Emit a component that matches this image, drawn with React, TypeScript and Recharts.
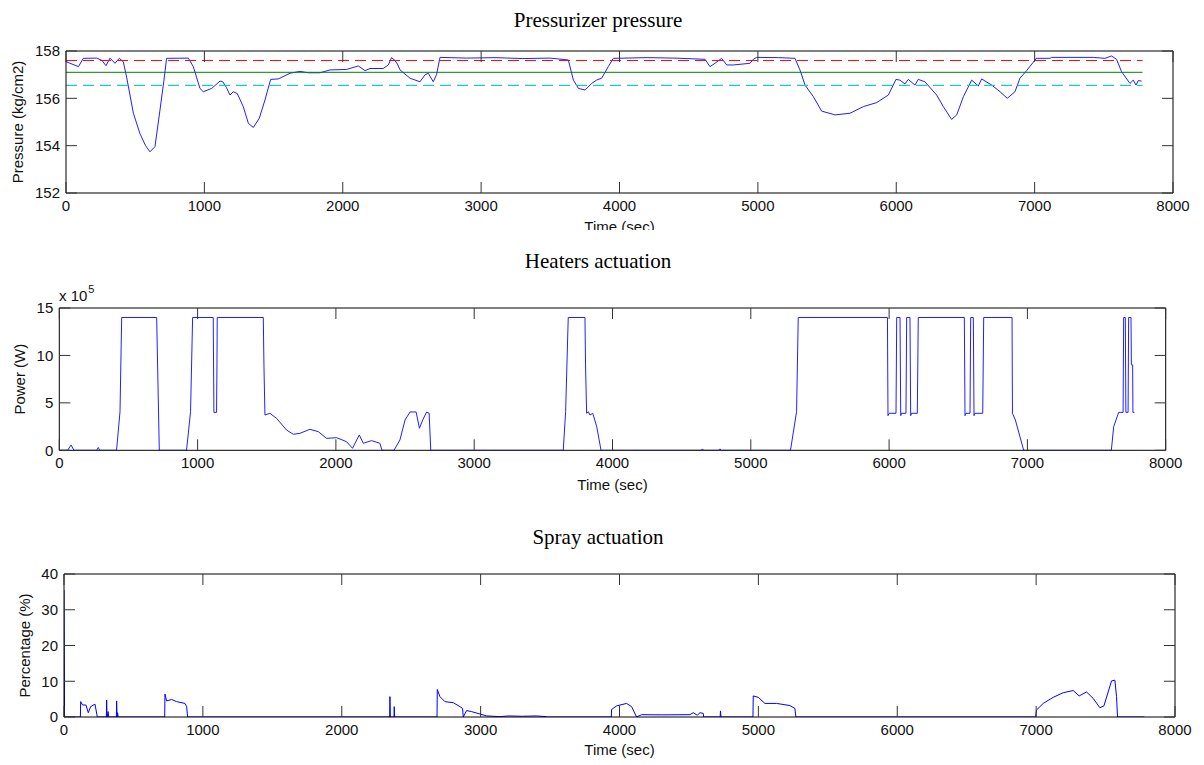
import React from 'react';
import { LineChart, Line, XAxis, YAxis, ReferenceLine } from 'recharts';

// time axis shared by the three panels
const timeTicks = [0, 1000, 2000, 3000, 4000, 5000, 6000, 7000, 8000];
const pressureTicks = [152, 154, 156, 158];
const powerTicks = [0, 5, 10, 15];
const sprayTicks = [0, 10, 20, 30, 40];

// pressure limits (kg/cm2)
const highLimit = 157.6;
const setpoint = 157.1;
const lowLimit = 156.55;
const limitEnd = 7780;

// [time (s), pressure (kg/cm2)]
const pressureSamples: [number, number][] = [
    [0, 157.55], [90, 157.34], [125, 157.69], [222, 157.7], [260, 157.6], [289, 157.38],
    [318, 157.7], [354, 157.48], [385, 157.69], [414, 157.55], [438, 156.9], [487, 155.37],
    [535, 154.5], [575, 154.0], [607, 153.74], [643, 153.96], [679, 155.5], [708, 156.77],
    [727, 157.69], [884, 157.7], [920, 157.34], [968, 156.42], [992, 156.28], [1053, 156.42],
    [1113, 156.73], [1133, 156.7], [1160, 156.45], [1185, 156.14], [1209, 156.28], [1238, 156.2],
    [1281, 155.65], [1318, 154.94], [1354, 154.77], [1397, 155.16], [1438, 155.93], [1479, 156.8],
    [1534, 156.82], [1619, 157.06], [1691, 157.14], [1751, 157.08], [1835, 157.08], [1908, 157.2],
    [2028, 157.22], [2112, 157.37], [2161, 157.17], [2197, 157.26], [2293, 157.26], [2329, 157.41],
    [2353, 157.72], [2377, 157.6], [2395, 157.45], [2414, 157.2], [2486, 156.85], [2558, 156.7],
    [2594, 156.99], [2618, 157.06], [2654, 156.7], [2678, 157.0], [2703, 157.73], [2900, 157.7],
    [3100, 157.72], [3300, 157.68], [3500, 157.7], [3630, 157.62], [3667, 156.77], [3703, 156.42],
    [3751, 156.35], [3799, 156.63], [3835, 156.77], [3871, 156.85], [3919, 157.34], [3955, 157.69],
    [4200, 157.72], [4400, 157.7], [4618, 157.65], [4654, 157.34], [4690, 157.48], [4738, 157.69],
    [4775, 157.41], [4823, 157.41], [4943, 157.48], [4967, 157.65], [4991, 157.73], [5150, 157.72],
    [5268, 157.69], [5304, 157.2], [5341, 156.56], [5401, 156.07], [5461, 155.46], [5558, 155.3],
    [5666, 155.37], [5762, 155.65], [5859, 155.82], [5943, 156.14], [5998, 156.8], [6026, 156.77],
    [6063, 156.61], [6087, 156.8], [6135, 156.56], [6159, 156.8], [6207, 156.7], [6292, 156.14],
    [6340, 155.65], [6400, 155.11], [6437, 155.3], [6485, 156.07], [6545, 156.77], [6593, 156.52],
    [6617, 156.82], [6690, 156.56], [6750, 156.28], [6802, 156.0], [6858, 156.28], [6894, 156.85],
    [6942, 157.17], [7003, 157.62], [7010, 157.69], [7111, 157.69], [7123, 157.73], [7424, 157.73],
    [7508, 157.69], [7556, 157.79], [7592, 157.65], [7628, 157.13], [7689, 156.63], [7713, 156.77],
    [7733, 156.56], [7749, 156.75], [7773, 156.73],
];

// [time (s), heater power (x 10^5 W)]
const heaterSamples: [number, number][] = [
    [0, 0], [60, 0], [85, 0.56], [106, 0], [270, 0], [282, 0.3], [292, 0], [414, 0], [439, 4.07],
    [451, 14], [704, 14], [723, 0], [920, 0], [949, 4.07], [964, 14], [1113, 14], [1118, 4],
    [1137, 4], [1140, 9], [1142, 14], [1475, 14], [1480, 8.8], [1487, 3.72], [1523, 3.9],
    [1571, 3.37], [1643, 2.14], [1692, 1.69], [1740, 1.79], [1812, 2.21], [1872, 1.97],
    [1933, 1.26], [2005, 1.33], [2077, 0.91], [2120, 0.21], [2169, 1.62], [2198, 0.74],
    [2258, 1.02], [2318, 0.74], [2333, 0], [2420, 0], [2463, 1.09], [2500, 3.2], [2536, 4.04],
    [2580, 4.04], [2604, 2.32], [2628, 3.2], [2656, 4.04], [2674, 3.9], [2686, 0], [3644, 0],
    [3661, 4.07], [3680, 14], [3801, 14], [3805, 9], [3813, 3.9], [3825, 4.07], [3837, 3.72],
    [3857, 3.9], [3886, 2.5], [3917, 0], [4640, 0], [4650, 0.15], [4660, 0], [4766, 0],
    [4776, 0.15], [4786, 0], [5287, 0], [5331, 4.07], [5343, 14], [5988, 14], [5992, 3.65],
    [6000, 3.9], [6050, 3.9], [6055, 14], [6079, 14], [6084, 3.65], [6090, 3.9], [6122, 3.9],
    [6127, 14], [6151, 14], [6156, 3.65], [6162, 3.9], [6204, 3.9], [6211, 14], [6544, 14],
    [6549, 3.65], [6555, 3.9], [6585, 3.9], [6590, 14], [6609, 14], [6614, 3.65], [6620, 3.9],
    [6677, 3.9], [6684, 14], [6889, 14], [6892, 3.9], [6913, 3.2], [6973, 0], [7607, 0],
    [7624, 2.5], [7660, 4.0], [7692, 4.0], [7696, 14], [7708, 14], [7712, 4], [7728, 4],
    [7732, 14], [7749, 14], [7752, 9], [7761, 9], [7763, 4], [7774, 4],
];

// [time (s), spray valve opening (%)]
const spraySamples: [number, number][] = [
    [0, 35.5], [4, 0], [118, 0], [120, 4.3], [134, 3.36], [158, 3.36], [175, 1.2], [192, 2.9],
    [223, 3.6], [240, 0], [305, 0], [307, 4.75], [310, 0], [318, 1.5], [322, 0], [377, 0],
    [379, 4.5], [382, 0], [386, 1.2], [390, 0], [725, 0], [727, 6.4], [739, 4.5], [775, 4.9],
    [811, 4.3], [871, 3.8], [883, 2.9], [890, 0], [2345, 0], [2347, 5.7], [2350, 0], [2376, 0],
    [2378, 2.9], [2381, 0], [2686, 0], [2688, 7.7], [2707, 5.7], [2743, 4.3], [2803, 4.0],
    [2851, 2.9], [2870, 2.4], [2875, 0], [2899, 1.8], [2935, 1.5], [2995, 0.84], [3043, 0.3],
    [3139, 0.1], [3200, 0.3], [3300, 0.2], [3400, 0.3], [3475, 0.1], [3480, 0], [3941, 0],
    [3943, 2.1], [3979, 3.1], [4051, 3.8], [4087, 2.9], [4123, 0], [4159, 0.65], [4300, 0.6],
    [4507, 0.65], [4531, 1.2], [4560, 0.5], [4580, 1.2], [4603, 1.0], [4606, 0], [4725, 0],
    [4727, 1.7], [4731, 0], [4961, 0], [4963, 5.9], [4999, 5.5], [5047, 3.8], [5131, 3.8],
    [5227, 3.2], [5263, 2.4], [5270, 0], [6996, 0], [7003, 1.96], [7051, 3.8], [7123, 5.5],
    [7195, 6.8], [7267, 7.4], [7310, 5.9], [7363, 7.0], [7411, 5.2], [7459, 2.6], [7488, 3.1],
    [7543, 10.1], [7567, 10.3], [7579, 5.7], [7586, 0], [7780, 0],
];

const toRows = (samples: [number, number][]) => samples.map(([t, v]) => ({ t, v }));
const flat = (v: number) => [{ t: 0, v }, { t: limitEnd, v }];

const sans = '"Liberation Sans", Arial, sans-serif';
const serif = '"Liberation Serif", "Times New Roman", serif';
const labelFont = { fill: '#111', fontSize: 15, fontFamily: sans };
const TICK_LEN = 11;
const CHART_W = 1204;
const Y_AXIS_W = 50;
const X_AXIS_H = 30;

interface PanelProps {
    top: number;
    height: number;
    margin: { top: number; right: number; bottom: number; left: number };
    yDomain: [number, number];
    yTicks: number[];
    yLabel: string;
    yLabelOffset: number;
    xLabelOffset: number;
    children: React.ReactNode;
}

const Panel = ({ top, height, margin, yDomain, yTicks, yLabel, yLabelOffset, xLabelOffset, children }: PanelProps) => {
    // plot box, used to draw matlab-style inward ticks on all four sides
    const plotTop = margin.top;
    const plotBottom = height - margin.bottom - X_AXIS_H;
    const plotLeft = margin.left + Y_AXIS_W;
    const plotRight = CHART_W - margin.right;

    const xTick = (props: any) => {
        const { x, payload } = props;
        return (
            <g>
                <line x1={x} x2={x} y1={plotBottom} y2={plotBottom - TICK_LEN} stroke="#333" />
                <line x1={x} x2={x} y1={plotTop} y2={plotTop + TICK_LEN} stroke="#333" />
                <text x={x} y={plotBottom + 7} dy="0.71em" textAnchor="middle" {...labelFont}>
                    {payload.value}
                </text>
            </g>
        );
    };

    const yTick = (props: any) => {
        const { y, payload } = props;
        return (
            <g>
                <line x1={plotLeft} x2={plotLeft + TICK_LEN} y1={y} y2={y} stroke="#333" />
                <line x1={plotRight} x2={plotRight - TICK_LEN} y1={y} y2={y} stroke="#333" />
                <text x={plotLeft - 6} y={y} dy="0.355em" textAnchor="end" {...labelFont}>
                    {payload.value}
                </text>
            </g>
        );
    };

    return (
        <div style={{ position: 'absolute', left: 0, top, width: CHART_W, height, overflow: 'hidden' }}>
            <LineChart width={CHART_W} height={height} margin={margin}>
                <XAxis
                    dataKey="t"
                    type="number"
                    domain={[0, 8000]}
                    ticks={timeTicks}
                    interval={0}
                    allowDataOverflow
                    height={X_AXIS_H}
                    tickSize={0}
                    tick={xTick}
                    tickLine={false}
                    axisLine={{ stroke: '#000' }}
                    label={{ value: 'Time (sec)', position: 'bottom', offset: xLabelOffset, style: labelFont }}
                />
                <YAxis
                    type="number"
                    domain={yDomain}
                    ticks={yTicks}
                    interval={0}
                    allowDataOverflow
                    width={Y_AXIS_W}
                    tickSize={0}
                    tick={yTick}
                    tickLine={false}
                    axisLine={{ stroke: '#000' }}
                    label={{
                        value: yLabel,
                        angle: -90,
                        position: 'insideLeft',
                        offset: yLabelOffset,
                        style: { ...labelFont, textAnchor: 'middle' },
                    }}
                />
                {children}
                <ReferenceLine y={yDomain[1]} stroke="#000" strokeWidth={1} />
                <ReferenceLine x={8000} stroke="#000" strokeWidth={1} />
            </LineChart>
        </div>
    );
};

const Title = ({ top, text }: { top: number; text: string }) => (
    <div
        style={{
            position: 'absolute',
            left: 0,
            top,
            width: 1196,
            textAlign: 'center',
            fontFamily: serif,
            fontSize: 21,
            lineHeight: '22px',
            color: '#000',
        }}
    >
        {text}
    </div>
);

export default function App() {
    return (
        <div style={{ position: 'absolute', left: 0, top: 0, width: 1204, height: 765, background: '#fff' }}>
            <Title top={9} text="Pressurizer pressure" />
            <Panel
                top={0}
                height={230}
                margin={{ top: 51, right: 31, bottom: 7, left: 16 }}
                yDomain={[152, 158]}
                yTicks={pressureTicks}
                yLabel="Pressure (kg/cm2)"
                yLabelOffset={2}
                xLabelOffset={-1.3}
            >
                <Line data={toRows(pressureSamples)} dataKey="v" type="linear" stroke="#2020ff" strokeWidth={1} dot={false} isAnimationActive={false} />
                <Line data={flat(highLimit)} dataKey="v" type="linear" stroke="#ff0000" strokeWidth={1} strokeDasharray="11 6" dot={false} isAnimationActive={false} />
                <Line data={flat(setpoint)} dataKey="v" type="linear" stroke="#008000" strokeWidth={1} dot={false} isAnimationActive={false} />
                <Line data={flat(lowLimit)} dataKey="v" type="linear" stroke="#1ec8c8" strokeWidth={1.2} strokeDasharray="11 6" dot={false} isAnimationActive={false} />
            </Panel>

            <Title top={250} text="Heaters actuation" />
            <div style={{ position: 'absolute', left: 59, top: 287, fontFamily: sans, fontSize: 15, color: '#111', lineHeight: '18px' }}>
                x 10<span style={{ fontSize: 11, position: 'relative', top: -8, marginLeft: 1 }}>5</span>
            </div>
            <Panel
                top={240}
                height={260}
                margin={{ top: 68, right: 38.3, bottom: 19.7, left: 9.3 }}
                yDomain={[0, 15]}
                yTicks={powerTicks}
                yLabel="Power (W)"
                yLabelOffset={10.7}
                xLabelOffset={-0.6}
            >
                <Line data={toRows(heaterSamples)} dataKey="v" type="linear" stroke="#2020ff" strokeWidth={1} dot={false} isAnimationActive={false} />
            </Panel>

            <Title top={526} text="Spray actuation" />
            <Panel
                top={510}
                height={255}
                margin={{ top: 64, right: 29, bottom: 18, left: 14 }}
                yDomain={[0, 40]}
                yTicks={sprayTicks}
                yLabel="Percentage (%)"
                yLabelOffset={11}
                xLabelOffset={-2.3}
            >
                <Line data={toRows(spraySamples)} dataKey="v" type="linear" stroke="#0000ff" strokeWidth={1} dot={false} isAnimationActive={false} />
            </Panel>
        </div>
    );
}
